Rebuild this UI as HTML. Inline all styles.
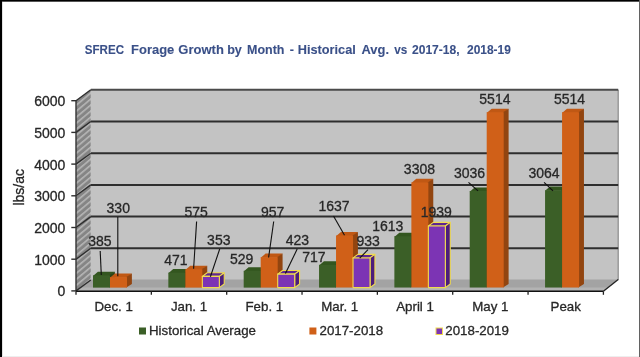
<!DOCTYPE html>
<html><head><meta charset="utf-8"><style>
html,body{margin:0;padding:0;background:#fff;}
body{width:640px;height:357px;overflow:hidden;position:relative;}
svg{position:absolute;left:0;top:0;will-change:transform;}
text{font-family:"Liberation Sans",sans-serif;fill:#262626;}
.ax,.lb,.lg,.yt,.cat{stroke:#2a2a2a;stroke-width:0.3px;}
.ax{font-size:14px;}
.cat{font-size:13.3px;}
.lb{font-size:14px;}
.lg{font-size:13.3px;}
.yt{font-size:14px;}
.ti{stroke:#3a5088;stroke-width:0.1px;font-size:13px;font-weight:bold;fill:#3a5088;}
</style></head><body>
<svg width="640" height="357" viewBox="0 0 640 357">
<defs>
<pattern id="hatch" patternUnits="userSpaceOnUse" width="4.6" height="4.6" patternTransform="rotate(-40)">
<rect width="4.6" height="4.6" fill="#858585"/>
<rect width="4.6" height="1.6" fill="#b6b6b6"/>
</pattern>
</defs>
<rect x="0" y="0" width="640" height="357" fill="#fff"/>
<polygon points="90.8,89.8 618.2,89.8 618.2,280 90.8,280" fill="#c3c3c3"/>
<polygon points="76,290.9 76,100.7 90.8,89.8 90.8,280" fill="url(#hatch)"/>
<polygon points="76,291.3 603.4,291.3 618.2,279.6 90.8,279.6" fill="#a3a3a3"/>
<polygon points="80.6,287.6 608,287.6 603.4,291.3 76,291.3" fill="#b3b3b3"/>
<line x1="618.2" y1="89.8" x2="618.2" y2="280" stroke="#8a8a8a" stroke-width="1.2"/>
<line x1="90.8" y1="248.3" x2="618.2" y2="248.3" stroke="#2e2e2e" stroke-width="2"/>
<line x1="90.8" y1="216.6" x2="618.2" y2="216.6" stroke="#2e2e2e" stroke-width="2"/>
<line x1="90.8" y1="184.9" x2="618.2" y2="184.9" stroke="#2e2e2e" stroke-width="2"/>
<line x1="90.8" y1="153.2" x2="618.2" y2="153.2" stroke="#2e2e2e" stroke-width="2"/>
<line x1="90.8" y1="121.5" x2="618.2" y2="121.5" stroke="#2e2e2e" stroke-width="2"/>
<line x1="90.8" y1="89.8" x2="618.2" y2="89.8" stroke="#4a4a4a" stroke-width="2"/>
<line x1="76" y1="290.9" x2="90.8" y2="280" stroke="#2e2e2e" stroke-width="1.4"/>
<line x1="71.3" y1="290.9" x2="76" y2="290.9" stroke="#2e2e2e" stroke-width="1.4"/>
<text x="65.3" y="296.3" text-anchor="end" class="ax">0</text>
<line x1="76" y1="259.2" x2="90.8" y2="248.3" stroke="#2e2e2e" stroke-width="1.4"/>
<line x1="71.3" y1="259.2" x2="76" y2="259.2" stroke="#2e2e2e" stroke-width="1.4"/>
<text x="65.3" y="264.6" text-anchor="end" class="ax">1000</text>
<line x1="76" y1="227.5" x2="90.8" y2="216.6" stroke="#2e2e2e" stroke-width="1.4"/>
<line x1="71.3" y1="227.5" x2="76" y2="227.5" stroke="#2e2e2e" stroke-width="1.4"/>
<text x="65.3" y="232.9" text-anchor="end" class="ax">2000</text>
<line x1="76" y1="195.8" x2="90.8" y2="184.9" stroke="#2e2e2e" stroke-width="1.4"/>
<line x1="71.3" y1="195.8" x2="76" y2="195.8" stroke="#2e2e2e" stroke-width="1.4"/>
<text x="65.3" y="201.2" text-anchor="end" class="ax">3000</text>
<line x1="76" y1="164.1" x2="90.8" y2="153.2" stroke="#2e2e2e" stroke-width="1.4"/>
<line x1="71.3" y1="164.1" x2="76" y2="164.1" stroke="#2e2e2e" stroke-width="1.4"/>
<text x="65.3" y="169.5" text-anchor="end" class="ax">4000</text>
<line x1="76" y1="132.4" x2="90.8" y2="121.5" stroke="#2e2e2e" stroke-width="1.4"/>
<line x1="71.3" y1="132.4" x2="76" y2="132.4" stroke="#2e2e2e" stroke-width="1.4"/>
<text x="65.3" y="137.8" text-anchor="end" class="ax">5000</text>
<line x1="76" y1="100.7" x2="90.8" y2="89.8" stroke="#2e2e2e" stroke-width="1.4"/>
<line x1="71.3" y1="100.7" x2="76" y2="100.7" stroke="#2e2e2e" stroke-width="1.4"/>
<text x="65.3" y="106.1" text-anchor="end" class="ax">6000</text>
<line x1="76" y1="100.7" x2="76" y2="290.9" stroke="#333" stroke-width="1.4"/>
<polygon points="93,276.06 110,276.06 114.9,271.76 97.9,271.76" fill="#33561f"/>
<polygon points="109.3,287.6 109.3,275.36 114.9,271.76 114.9,284" fill="#2a4419"/>
<polygon points="93,287.6 110,287.6 110,275.36 93,275.36" fill="#3b5f27"/>
<polygon points="110,277.81 127,277.81 131.9,273.51 114.9,273.51" fill="#c05814"/>
<polygon points="126.3,287.6 126.3,277.11 131.9,273.51 131.9,284" fill="#924510"/>
<polygon points="110,287.6 127,287.6 127,277.11 110,277.11" fill="#d06018"/>
<polygon points="168.34,273.32 185.34,273.32 190.24,269.02 173.24,269.02" fill="#33561f"/>
<polygon points="184.64,287.6 184.64,272.62 190.24,269.02 190.24,284" fill="#2a4419"/>
<polygon points="168.34,287.6 185.34,287.6 185.34,272.62 168.34,272.62" fill="#3b5f27"/>
<polygon points="185.34,270.01 202.34,270.01 207.24,265.71 190.24,265.71" fill="#c05814"/>
<polygon points="201.64,287.6 201.64,269.31 207.24,265.71 207.24,284" fill="#924510"/>
<polygon points="185.34,287.6 202.34,287.6 202.34,269.31 185.34,269.31" fill="#d06018"/>
<polygon points="202.34,276.37 219.34,276.37 224.24,272.77 207.24,272.77" fill="#5e2590" stroke="#f0dc50" stroke-width="1.1" stroke-linejoin="round"/>
<polygon points="219.34,287.6 219.34,276.37 224.24,272.77 224.24,284" fill="#4c1d7c" stroke="#f0dc50" stroke-width="1.1" stroke-linejoin="round"/>
<polygon points="202.34,287.6 219.34,287.6 219.34,276.37 202.34,276.37" fill="#7c34b4" stroke="#f0dc50" stroke-width="1.1" stroke-linejoin="round"/>
<polygon points="243.69,271.48 260.69,271.48 265.59,267.18 248.59,267.18" fill="#33561f"/>
<polygon points="259.99,287.6 259.99,270.78 265.59,267.18 265.59,284" fill="#2a4419"/>
<polygon points="243.69,287.6 260.69,287.6 260.69,270.78 243.69,270.78" fill="#3b5f27"/>
<polygon points="260.69,257.87 277.69,257.87 282.59,253.57 265.59,253.57" fill="#c05814"/>
<polygon points="276.99,287.6 276.99,257.17 282.59,253.57 282.59,284" fill="#924510"/>
<polygon points="260.69,287.6 277.69,287.6 277.69,257.17 260.69,257.17" fill="#d06018"/>
<polygon points="277.69,274.15 294.69,274.15 299.59,270.55 282.59,270.55" fill="#5e2590" stroke="#f0dc50" stroke-width="1.1" stroke-linejoin="round"/>
<polygon points="294.69,287.6 294.69,274.15 299.59,270.55 299.59,284" fill="#4c1d7c" stroke="#f0dc50" stroke-width="1.1" stroke-linejoin="round"/>
<polygon points="277.69,287.6 294.69,287.6 294.69,274.15 277.69,274.15" fill="#7c34b4" stroke="#f0dc50" stroke-width="1.1" stroke-linejoin="round"/>
<polygon points="319.03,265.5 336.03,265.5 340.93,261.2 323.93,261.2" fill="#33561f"/>
<polygon points="335.33,287.6 335.33,264.8 340.93,261.2 340.93,284" fill="#2a4419"/>
<polygon points="319.03,287.6 336.03,287.6 336.03,264.8 319.03,264.8" fill="#3b5f27"/>
<polygon points="336.03,236.24 353.03,236.24 357.93,231.94 340.93,231.94" fill="#c05814"/>
<polygon points="352.33,287.6 352.33,235.54 357.93,231.94 357.93,284" fill="#924510"/>
<polygon points="336.03,287.6 353.03,287.6 353.03,235.54 336.03,235.54" fill="#d06018"/>
<polygon points="353.03,257.93 370.03,257.93 374.93,254.33 357.93,254.33" fill="#5e2590" stroke="#f0dc50" stroke-width="1.1" stroke-linejoin="round"/>
<polygon points="370.03,287.6 370.03,257.93 374.93,254.33 374.93,284" fill="#4c1d7c" stroke="#f0dc50" stroke-width="1.1" stroke-linejoin="round"/>
<polygon points="353.03,287.6 370.03,287.6 370.03,257.93 353.03,257.93" fill="#7c34b4" stroke="#f0dc50" stroke-width="1.1" stroke-linejoin="round"/>
<polygon points="394.37,237.01 411.37,237.01 416.27,232.71 399.27,232.71" fill="#33561f"/>
<polygon points="410.67,287.6 410.67,236.31 416.27,232.71 416.27,284" fill="#2a4419"/>
<polygon points="394.37,287.6 411.37,287.6 411.37,236.31 394.37,236.31" fill="#3b5f27"/>
<polygon points="411.37,183.11 428.37,183.11 433.27,178.81 416.27,178.81" fill="#c05814"/>
<polygon points="427.67,287.6 427.67,182.41 433.27,178.81 433.27,284" fill="#924510"/>
<polygon points="411.37,287.6 428.37,287.6 428.37,182.41 411.37,182.41" fill="#d06018"/>
<polygon points="428.37,225.94 445.37,225.94 450.27,222.34 433.27,222.34" fill="#5e2590" stroke="#f0dc50" stroke-width="1.1" stroke-linejoin="round"/>
<polygon points="445.37,287.6 445.37,225.94 450.27,222.34 450.27,284" fill="#4c1d7c" stroke="#f0dc50" stroke-width="1.1" stroke-linejoin="round"/>
<polygon points="428.37,287.6 445.37,287.6 445.37,225.94 428.37,225.94" fill="#7c34b4" stroke="#f0dc50" stroke-width="1.1" stroke-linejoin="round"/>
<polygon points="469.71,191.76 486.71,191.76 491.61,187.46 474.61,187.46" fill="#33561f"/>
<polygon points="486.01,287.6 486.01,191.06 491.61,187.46 491.61,284" fill="#2a4419"/>
<polygon points="469.71,287.6 486.71,287.6 486.71,191.06 469.71,191.06" fill="#3b5f27"/>
<polygon points="486.71,112.95 503.71,112.95 508.61,108.65 491.61,108.65" fill="#c05814"/>
<polygon points="503.01,287.6 503.01,112.25 508.61,108.65 508.61,284" fill="#924510"/>
<polygon points="486.71,287.6 503.71,287.6 503.71,112.25 486.71,112.25" fill="#d06018"/>
<polygon points="545.06,190.86 562.06,190.86 566.96,186.56 549.96,186.56" fill="#33561f"/>
<polygon points="561.36,287.6 561.36,190.16 566.96,186.56 566.96,284" fill="#2a4419"/>
<polygon points="545.06,287.6 562.06,287.6 562.06,190.16 545.06,190.16" fill="#3b5f27"/>
<polygon points="562.06,112.95 579.06,112.95 583.96,108.65 566.96,108.65" fill="#c05814"/>
<polygon points="578.36,287.6 578.36,112.25 583.96,108.65 583.96,284" fill="#924510"/>
<polygon points="562.06,287.6 579.06,287.6 579.06,112.25 562.06,112.25" fill="#d06018"/>
<line x1="76" y1="291.3" x2="603.4" y2="291.3" stroke="#111" stroke-width="1.5"/>
<line x1="603.4" y1="291.3" x2="618.2" y2="279.6" stroke="#222" stroke-width="1.3"/>
<line x1="76" y1="291.3" x2="76" y2="294.8" stroke="#222" stroke-width="1.3"/>
<line x1="151.34" y1="291.3" x2="151.34" y2="294.8" stroke="#222" stroke-width="1.3"/>
<line x1="226.69" y1="291.3" x2="226.69" y2="294.8" stroke="#222" stroke-width="1.3"/>
<line x1="302.03" y1="291.3" x2="302.03" y2="294.8" stroke="#222" stroke-width="1.3"/>
<line x1="377.37" y1="291.3" x2="377.37" y2="294.8" stroke="#222" stroke-width="1.3"/>
<line x1="452.71" y1="291.3" x2="452.71" y2="294.8" stroke="#222" stroke-width="1.3"/>
<line x1="528.06" y1="291.3" x2="528.06" y2="294.8" stroke="#222" stroke-width="1.3"/>
<line x1="603.4" y1="291.3" x2="603.4" y2="294.8" stroke="#222" stroke-width="1.3"/>
<text x="113.67" y="310.9" text-anchor="middle" class="cat">Dec. 1</text>
<text x="189.01" y="310.9" text-anchor="middle" class="cat">Jan. 1</text>
<text x="264.36" y="310.9" text-anchor="middle" class="cat">Feb. 1</text>
<text x="339.7" y="310.9" text-anchor="middle" class="cat">Mar. 1</text>
<text x="415.04" y="310.9" text-anchor="middle" class="cat">April 1</text>
<text x="490.39" y="310.9" text-anchor="middle" class="cat">May 1</text>
<text x="565.73" y="310.9" text-anchor="middle" class="cat">Peak</text>
<line x1="100.2" y1="251" x2="101.3" y2="275" stroke="#111" stroke-width="1.1"/>
<line x1="117.8" y1="217" x2="117.8" y2="276.2" stroke="#111" stroke-width="1.1"/>
<line x1="196.6" y1="221.5" x2="193.6" y2="268.7" stroke="#111" stroke-width="1.1"/>
<line x1="219.7" y1="249" x2="210.4" y2="276.7" stroke="#111" stroke-width="1.1"/>
<line x1="273.7" y1="221.5" x2="268.6" y2="257.5" stroke="#111" stroke-width="1.1"/>
<line x1="297.2" y1="249" x2="285.4" y2="273.6" stroke="#111" stroke-width="1.1"/>
<line x1="333.5" y1="216" x2="344.5" y2="235.3" stroke="#111" stroke-width="1.1"/>
<line x1="368" y1="249.6" x2="359.7" y2="258.2" stroke="#111" stroke-width="1.1"/>
<line x1="468.5" y1="182.4" x2="478" y2="190.8" stroke="#111" stroke-width="1.1"/>
<line x1="544.1" y1="182.4" x2="553" y2="190.8" stroke="#111" stroke-width="1.1"/>
<text x="99.9" y="245.5" text-anchor="middle" class="lb">385</text>
<text x="118.25" y="213" text-anchor="middle" class="lb">330</text>
<text x="175.95" y="264.9" text-anchor="middle" class="lb">471</text>
<text x="196.15" y="216.8" text-anchor="middle" class="lb">575</text>
<text x="218.8" y="244.5" text-anchor="middle" class="lb">353</text>
<text x="241.65" y="263.8" text-anchor="middle" class="lb">529</text>
<text x="272.65" y="216.8" text-anchor="middle" class="lb">957</text>
<text x="297.35" y="244.5" text-anchor="middle" class="lb">423</text>
<text x="313.85" y="262" text-anchor="middle" class="lb">717</text>
<text x="334.1" y="210.5" text-anchor="middle" class="lb">1637</text>
<text x="368.1" y="246" text-anchor="middle" class="lb">933</text>
<text x="387.8" y="231" text-anchor="middle" class="lb">1613</text>
<text x="419.45" y="173.7" text-anchor="middle" class="lb">3308</text>
<text x="436.25" y="216.8" text-anchor="middle" class="lb">1939</text>
<text x="469.5" y="177.9" text-anchor="middle" class="lb">3036</text>
<text x="494.9" y="104.3" text-anchor="middle" class="lb">5514</text>
<text x="544.1" y="177.9" text-anchor="middle" class="lb">3064</text>
<text x="569.55" y="104.3" text-anchor="middle" class="lb">5514</text>
<rect x="139" y="327.5" width="7" height="7" fill="#3b5f27"/>
<text x="149" y="334.9" class="lg">Historical Average</text>
<rect x="309.4" y="327.5" width="7" height="7" fill="#d06018"/>
<text x="319.5" y="334.9" class="lg">2017-2018</text>
<rect x="436" y="328" width="6.5" height="6.5" fill="#7c34b4" stroke="#f0dc50" stroke-width="1"/>
<text x="445.3" y="334.9" class="lg">2018-2019</text>
<text transform="translate(24,187.3) rotate(-90)" text-anchor="middle" class="yt">lbs/ac</text>
<text transform="translate(84.7,53.8) scale(0.893,1)" class="ti">SFREC</text>
<text transform="translate(131.1,53.8) scale(0.998,1)" class="ti">Forage</text>
<text transform="translate(178.3,53.8) scale(1.002,1)" class="ti">Growth</text>
<text transform="translate(227.13,53.8) scale(0.971,1)" class="ti">by</text>
<text transform="translate(247.04,53.8) scale(0.961,1)" class="ti">Month</text>
<text transform="translate(289.7,53.8) scale(0.975,1)" class="ti">-</text>
<text transform="translate(297.77,53.8) scale(0.980,1)" class="ti">Historical</text>
<text transform="translate(361.5,53.8) scale(0.993,1)" class="ti">Avg.</text>
<text transform="translate(394.3,53.8) scale(0.900,1)" class="ti">vs</text>
<text transform="translate(412,53.8) scale(0.929,1)" class="ti">2017-18,</text>
<text transform="translate(467,53.8) scale(0.919,1)" class="ti">2018-19</text>
<rect x="0" y="1" width="640" height="1" fill="#555"/>
<rect x="0" y="0" width="640" height="1" fill="#000"/>
<rect x="2" y="2" width="1" height="355" fill="#e2e2e2"/>
<rect x="0" y="0" width="2" height="357" fill="#000"/>
<rect x="639" y="0" width="1" height="357" fill="#626262"/>
<rect x="2" y="356" width="637" height="1" fill="#eeeeee"/>
</svg>
</body></html>
